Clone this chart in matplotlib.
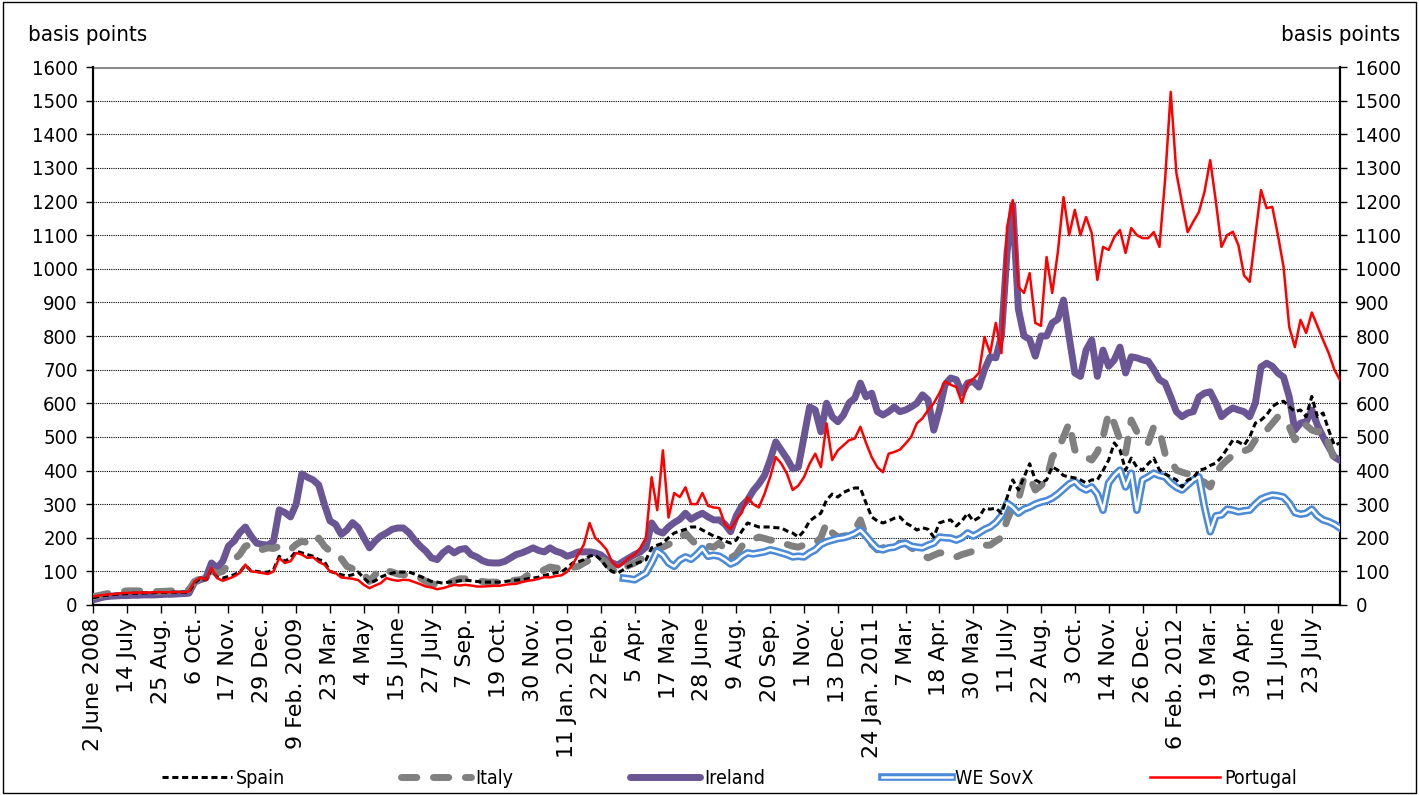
import numpy as np
import matplotlib
matplotlib.use('Agg')
import matplotlib.pyplot as plt
import matplotlib.patheffects as pe
from matplotlib.patches import Rectangle

# weekly CDS spreads, basis points, starting Monday 2 June 2008
start = np.datetime64('2008-06-02')

portugal = [
    25, 28, 30, 32, 33, 35, 36, 36, 37, 37,
    37, 38, 38, 38, 38, 39, 38, 40, 70, 82,
    75, 110, 80, 72, 78, 85, 95, 120, 100, 98,
    95, 92, 100, 140, 125, 130, 155, 150, 140, 142,
    128, 120, 100, 95, 82, 80, 78, 74, 60, 50,
    58, 65, 80, 75, 72, 75, 74, 68, 62, 55,
    52, 47, 50, 55, 60, 58, 60, 58, 55, 55,
    56, 57, 57, 60, 62, 63, 68, 72, 74, 78,
    83, 82, 86, 88, 98, 120, 150, 180, 244, 200,
    184, 165, 128, 113, 125, 140, 150, 170, 200, 380,
    282, 460, 260, 333, 321, 350, 300, 300, 333, 295,
    290, 288, 240, 225, 253, 275, 320, 300, 290, 330,
    380, 440, 420, 390, 342, 355, 380, 420, 450, 410,
    540, 431, 460, 475, 490, 495, 530, 482, 440, 410,
    395, 450, 455, 462, 480, 500, 540, 555, 580, 600,
    630, 665, 655, 648, 601, 660, 672, 690, 797, 749,
    839, 749, 1124, 1204, 946, 928, 987, 839, 830, 1035,
    928, 1050, 1213, 1100, 1175, 1100, 1154, 1106, 967, 1065,
    1056, 1094, 1115, 1047, 1121, 1100, 1091, 1091, 1109, 1065,
    1264, 1526, 1285, 1196, 1109, 1140, 1169, 1230, 1323, 1200,
    1065, 1100, 1110, 1070, 980, 961, 1100, 1234, 1180, 1184,
    1100, 1005, 827, 767, 848, 809, 870, 830, 788, 749,
    700, 669,
]

ireland = [
    15, 20, 24, 26, 27, 28, 28, 29, 29, 30,
    30, 30, 31, 32, 32, 33, 34, 35, 68, 75,
    80, 125, 110, 130, 175, 190, 215, 232, 205, 184,
    180, 178, 190, 283, 275, 262, 300, 390, 380, 372,
    357, 300, 250, 240, 210, 223, 245, 230, 200, 170,
    190, 205, 214, 225, 229, 229, 215, 193, 175, 160,
    140, 135, 155, 168, 155, 165, 168, 150, 143, 132,
    126, 125, 125, 130, 140, 150, 155, 162, 170, 162,
    158, 170, 160, 155, 145, 150, 158, 158, 158, 155,
    149, 135, 125, 119, 130, 140, 150, 158, 172, 244,
    220, 214, 232, 245, 255, 273, 255, 265, 273, 262,
    253, 253, 240, 218, 265, 295, 312, 340, 360, 385,
    431, 485, 460, 435, 405, 410, 500, 589, 580, 515,
    600, 560, 545, 565, 601, 615, 660, 619, 630, 575,
    565, 575, 589, 575, 580, 589, 600, 625, 610, 520,
    580, 655, 675, 670, 630, 660, 665, 648, 700, 738,
    735, 800, 1050, 1190, 880, 800, 790, 740, 800, 800,
    839, 850, 907, 797, 690, 680, 758, 788, 680, 758,
    710, 729, 767, 690, 738, 735, 729, 725, 700, 670,
    660, 619, 575, 560, 571, 575, 619, 630, 634, 601,
    560, 575, 586, 580, 575, 560, 601, 708, 719, 710,
    690, 678, 619, 520, 541, 545, 580, 535, 500, 470,
    440, 430,
]

spain = [
    22, 25, 28, 30, 32, 33, 34, 35, 35, 36,
    36, 37, 37, 37, 38, 38, 38, 38, 65, 80,
    75, 105, 82, 80, 85, 90, 98, 118, 102, 100,
    97, 98, 105, 145, 130, 140, 160, 155, 150, 145,
    135, 130, 100, 95, 90, 86, 90, 98, 80, 65,
    72, 83, 90, 95, 98, 98, 98, 92, 85, 78,
    70, 68, 65, 68, 70, 72, 74, 72, 70, 68,
    68, 68, 68, 70, 72, 74, 75, 78, 80, 83,
    88, 92, 96, 98, 110, 125, 128, 135, 145, 149,
    134, 113, 100, 95, 105, 115, 122, 128, 134, 170,
    178, 184, 200, 214, 220, 225, 232, 232, 223, 214,
    205, 200, 190, 184, 193, 220, 244, 238, 232, 232,
    232, 230, 229, 220, 214, 202, 220, 250, 262, 273,
    312, 330, 321, 335, 342, 348, 348, 303, 262, 250,
    244, 250, 258, 262, 244, 235, 223, 230, 225, 202,
    244, 250, 253, 235, 250, 273, 250, 260, 288, 285,
    288, 273, 320, 372, 342, 380, 420, 372, 363, 372,
    411, 401, 385, 381, 378, 372, 363, 372, 372, 400,
    431, 482, 461, 401, 437, 410, 401, 420, 437, 401,
    390, 381, 372, 351, 372, 378, 401, 405, 415, 422,
    440, 465, 490, 485, 475, 500, 541, 550, 565, 590,
    601, 606, 590, 575, 580, 560, 620, 560, 571, 520,
    475, 482,
]

italy = [
    25, 28, 32, 35, 38, 40, 42, 42, 42, 41,
    40, 40, 40, 41, 42, 43, 44, 45, 70, 78,
    80, 100, 95, 100, 120, 135, 150, 175, 180, 168,
    165, 170, 168, 175, 170, 165, 180, 190, 185, 178,
    199, 175, 160, 145, 138, 115, 108, 100, 92, 70,
    90, 108, 102, 98, 92, 90, 90, 88, 80, 70,
    62, 62, 60, 65, 72, 78, 78, 75, 72, 70,
    68, 68, 68, 70, 72, 74, 76, 88, 92, 95,
    105, 113, 110, 108, 110, 112, 115, 125, 134, 138,
    140, 125, 105, 95, 108, 118, 125, 135, 145, 155,
    165, 172, 180, 190, 200, 214, 195, 178, 178, 175,
    172, 184, 165, 140, 150, 175, 184, 195, 202, 198,
    193, 192, 187, 180, 175, 172, 178, 180, 184, 200,
    244, 215, 202, 205, 208, 225, 253, 202, 180, 164,
    170, 178, 184, 184, 184, 170, 160, 150, 140, 148,
    155, 155, 150, 143, 150, 155, 160, 170, 178, 178,
    190, 200, 253, 290, 312, 380, 380, 342, 355, 372,
    440, 461, 500, 541, 461, 446, 440, 431, 455, 500,
    571, 540, 491, 452, 550, 515, 500, 482, 530, 520,
    450, 431, 401, 395, 390, 372, 372, 365, 351, 392,
    415, 431, 445, 452, 458, 465, 491, 505, 520, 540,
    560, 548, 530, 491, 511, 535, 520, 515, 520, 480,
    430, 411,
]

# WE SovX index only exists from March 2010 (week 94 onwards)
sovx_first_week = 94
sovx = [
    80, 78, 75, 85, 95, 125,
    160, 148, 125, 115, 134, 143, 136, 150, 168, 145,
    148, 145, 135, 122, 130, 145, 155, 152, 155, 158,
    164, 160, 155, 150, 143, 145, 143, 155, 164, 180,
    188, 193, 198, 200, 205, 212, 223, 205, 185, 168,
    164, 170, 172, 180, 184, 175, 172, 170, 178, 184,
    202, 200, 199, 193, 200, 214, 205, 214, 225, 232,
    245, 265, 303, 291, 273, 285, 291, 300, 306, 310,
    318, 330, 345, 360, 368, 351, 342, 351, 330, 282,
    363, 385, 401, 351, 392, 282, 372, 381, 392, 385,
    381, 363, 350, 342, 357, 372, 381, 291, 218, 265,
    268, 285, 282, 277, 280, 282, 300, 315, 322, 327,
    325, 321, 303, 275, 270, 273, 285, 265, 253, 248,
    240, 229,
]

tick_labels = [
    '2 June 2008', '14 July', '25 Aug.', '6 Oct.', '17 Nov.', '29 Dec.',
    '9 Feb. 2009', '23 Mar.', '4 May', '15 June', '27 July', '7 Sep.',
    '19 Oct.', '30 Nov.', '11 Jan. 2010', '22 Feb.', '5 Apr.', '17 May',
    '28 June', '9 Aug.', '20 Sep.', '1 Nov.', '13 Dec.', '24 Jan. 2011',
    '7 Mar.', '18 Apr.', '30 May', '11 July', '22 Aug.', '3 Oct.',
    '14 Nov.', '26 Dec.', '6 Feb. 2012', '19 Mar.', '30 Apr.', '11 June',
    '23 July',
]
y_ticks = list(range(0, 1700, 100))

weeks = start + np.arange(len(portugal)) * np.timedelta64(7, 'D')
sovx_weeks = weeks[sovx_first_week:sovx_first_week + len(sovx)]
tick_dates = start + np.arange(len(tick_labels)) * np.timedelta64(42, 'D')

narrow = dict(family='DejaVu Sans', stretch='condensed')

fig = plt.figure(figsize=(14.19, 7.95), dpi=100)
ax = fig.add_axes([93 / 1419, 1 - 605 / 795, (1340 - 93) / 1419, (605 - 67) / 795])

# horizontal grid: dotted, with a solid grey line on top
for y in y_ticks[1:-1]:
    ax.axhline(y, color='black', lw=0.8, ls=(0, (1, 1)), zorder=1)
ax.axhline(1600, color='#8c8c8c', lw=2.2, zorder=1)

ax.plot(weeks, ireland, color='#6a5694', lw=5, solid_capstyle='round',
        label='Ireland', zorder=3)
ax.plot(weeks, italy, color='#808080', lw=5, ls=(0, (2.2, 2.4)),
        dash_capstyle='round', label='Italy', zorder=4)
ax.plot(sovx_weeks, sovx, color='white', lw=1.8, label='WE SovX', zorder=5,
        path_effects=[pe.Stroke(linewidth=5.5, foreground='#4a8ad8'), pe.Normal()])
ax.plot(weeks, spain, color='black', lw=2.2, ls=(0, (2, 1.2)),
        label='Spain', zorder=6)
ax.plot(weeks, portugal, color='#ff0000', lw=1.8, label='Portugal', zorder=7)

ax.set_xlim(start, start + np.timedelta64(1547, 'D'))
ax.set_ylim(0, 1600)

ax.set_yticks(y_ticks)
ax.set_yticklabels([str(v) for v in y_ticks], fontsize=14.5, **narrow)
ax.tick_params(axis='y', which='both', direction='out', length=5, width=1,
               left=True, right=True, labelleft=True, labelright=True, pad=6)

ax.set_xticks(tick_dates)
ax.set_xticklabels(tick_labels, rotation=90, fontsize=16, ha='center', va='top')
ax.tick_params(axis='x', direction='out', length=6, width=1, pad=3)

for side in ['left', 'right', 'bottom']:
    ax.spines[side].set_linewidth(1.6)
    ax.spines[side].set_color('black')
ax.spines['top'].set_visible(False)

fig.text(28 / 1419, 1 - 35 / 795, 'basis points', fontsize=16, ha='left', va='center', **narrow)
fig.text(1400 / 1419, 1 - 35 / 795, 'basis points', fontsize=16, ha='right', va='center', **narrow)

handles, labels = ax.get_legend_handles_labels()
order = ['Spain', 'Italy', 'Ireland', 'WE SovX', 'Portugal']
handles = [handles[labels.index(n)] for n in order]
ax.legend(handles, order, ncol=5, loc='center', bbox_to_anchor=(0.514, 0.021),
          bbox_transform=fig.transFigure, frameon=False, handlelength=3.6,
          handletextpad=0.2, columnspacing=6.0,
          prop=dict(size=14, **narrow))

fig.patches.append(Rectangle((0.002, 0.003), 0.996, 0.994, transform=fig.transFigure,
                             fill=False, edgecolor='black', lw=1))

fig.savefig('out.png', dpi=100)
